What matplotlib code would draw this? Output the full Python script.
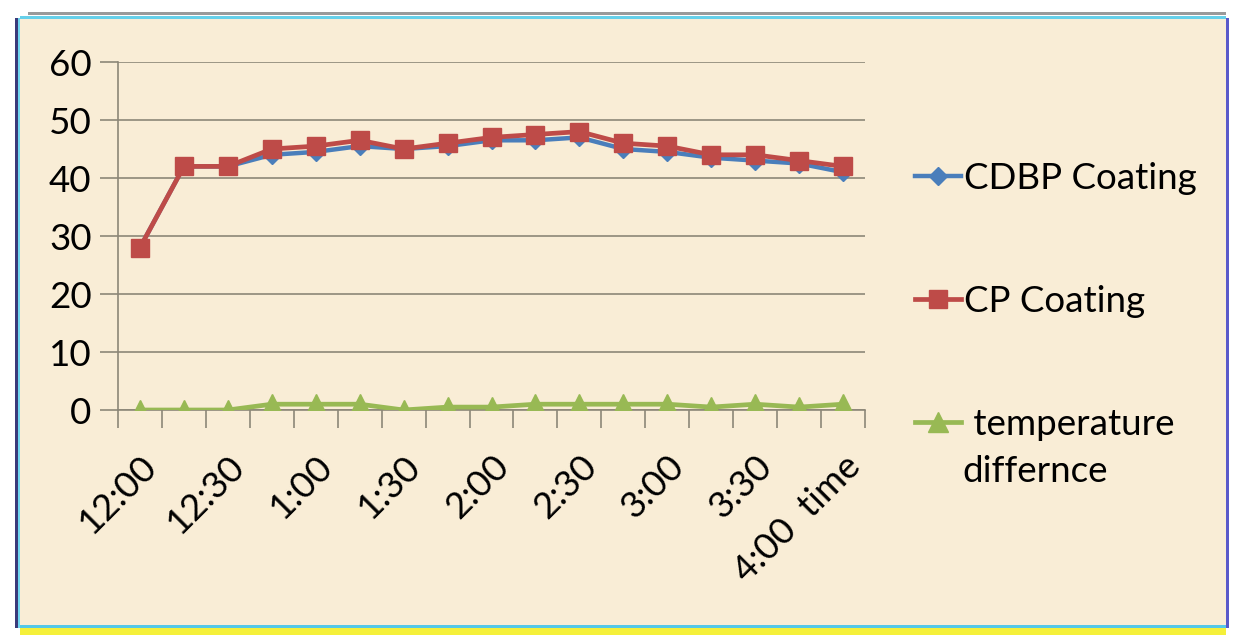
import matplotlib
matplotlib.use("Agg")
import matplotlib.pyplot as plt
from matplotlib.patches import Rectangle
import numpy as np

# ---- data -------------------------------------------------------------
times = ["12:00", "12:15", "12:30", "12:45", "1:00", "1:15", "1:30", "1:45",
         "2:00", "2:15", "2:30", "2:45", "3:00", "3:15", "3:30", "3:45", "4:00"]
tick_labels = ["12:00", "12:30", "1:00", "1:30", "2:00", "2:30", "3:00",
               "3:30", "4:00  time"]
cdbp = [28, 42, 42, 44, 44.5, 45.5, 45, 45.5, 46.5, 46.5, 47, 45, 44.5,
        43.5, 43, 42.5, 41]
cp = [28, 42, 42, 45, 45.5, 46.5, 45, 46, 47, 47.5, 48, 46, 45.5, 44, 44,
      43, 42]
temp_diff = [0, 0, 0, 1, 1, 1, 0, 0.5, 0.5, 1, 1, 1, 1, 0.5, 1, 0.5, 1]
y_ticks = [0, 10, 20, 30, 40, 50, 60]

# ---- style ------------------------------------------------------------
plt.rcParams["font.family"] = ["Lato", "DejaVu Sans"]
BLUE = "#4A7EBB"
RED = "#BE4B48"
GREEN = "#98B954"
GRID = "#8C8778"
PAPER = "#F9EDD6"
FS = 26.5

W, H = 1233, 635
fig = plt.figure(figsize=(W / 100, H / 100), dpi=100, facecolor="white")

def px_rect(x0, y0, x1, y1, **kw):
    """Rectangle given in pixel coordinates measured from the top-left."""
    fig.patches.append(Rectangle((x0 / W, 1 - y1 / H), (x1 - x0) / W,
                                 (y1 - y0) / H, transform=fig.transFigure,
                                 zorder=-5, **kw))

# page frame
px_rect(20, 18, 1226, 628, facecolor=PAPER, edgecolor="none")
px_rect(20, 628, 1226, 635, facecolor="#F5F03A", edgecolor="none")
px_rect(20, 625, 1226, 628, facecolor="#55C8E8", edgecolor="none")
px_rect(20, 16, 1226, 19, facecolor="#66D0EA", edgecolor="none")
px_rect(28, 12, 1226, 15, facecolor="#9A9A9A", edgecolor="none")
px_rect(15, 18, 18, 628, facecolor="#3A3A7A", edgecolor="none")
px_rect(18, 18, 20, 628, facecolor="#6FD6F0", edgecolor="none")
px_rect(1226, 18, 1229, 628, facecolor="#5A5ACA", edgecolor="none")

# ---- plot area --------------------------------------------------------
ax_l, ax_r, ax_t, ax_b = 118, 865, 62, 410
ax = fig.add_axes([ax_l / W, 1 - ax_b / H, (ax_r - ax_l) / W,
                   (ax_b - ax_t) / H])
ax.set_zorder(2)
ax.set_facecolor("none")

x = np.arange(len(times))
ax.plot(x, cdbp, color=BLUE, lw=3.2, marker="D", ms=9, mfc=BLUE,
        mec=BLUE, zorder=3, label="CDBP Coating")
ax.plot(x, cp, color=RED, lw=3.4, marker="s", ms=13.5, mfc=RED, mec=RED,
        zorder=4, label="CP Coating")
ax.plot(x, temp_diff, color=GREEN, lw=3.4, marker="^", ms=15, mfc=GREEN,
        mec=GREEN, zorder=3, label=" temperature")

ax.set_xlim(-0.5, len(times) - 0.5)
ax.set_ylim(0, 60)
ax.set_yticks(y_ticks)
ax.set_yticklabels([str(v) for v in y_ticks], fontsize=FS)
ax.yaxis.grid(True, color=GRID, lw=1.2, zorder=1)
ax.set_axisbelow(True)

# category labels on every other point, tick marks between categories
ax.set_xticks(x[::2])
ax.set_xticklabels(tick_labels, fontsize=FS, rotation=45, ha="right",
                   rotation_mode="anchor")
ax.tick_params(axis="x", which="major", length=0, pad=28)
ax.set_xticks(np.arange(-0.5, len(times)), minor=True)
ax.tick_params(axis="x", which="minor", length=13, width=1.2, color=GRID,
               direction="out")
ax.tick_params(axis="y", length=13, width=1.2, color=GRID, pad=6)

for side in ("top", "right"):
    ax.spines[side].set_visible(False)
for side in ("left", "bottom"):
    ax.spines[side].set_color(GRID)
    ax.spines[side].set_linewidth(1.2)

# ---- legend -----------------------------------------------------------
leg = ax.legend(loc="upper left", bbox_to_anchor=(1.047, 0.755),
                frameon=False, fontsize=FS, handlelength=1.25,
                handletextpad=0.08, labelspacing=2.45, borderaxespad=0)
fig.text(962 / W, 1 - 472 / H, "differnce", fontsize=FS, va="center",
         ha="left")

fig.savefig("out.png", dpi=100, facecolor=fig.get_facecolor())
